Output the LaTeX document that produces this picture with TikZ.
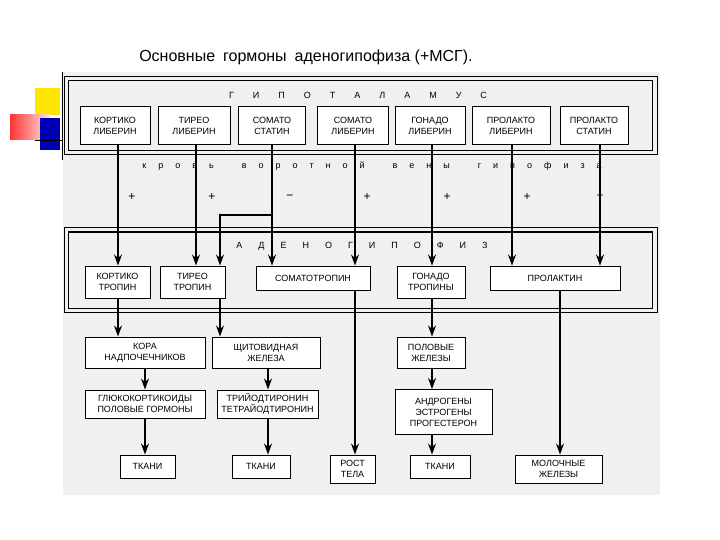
\documentclass[tikz,border=0pt]{standalone}
\usepackage{fontspec}
\setmainfont{Liberation Sans}
\usetikzlibrary{arrows.meta}
\newcommand{\gap}[1]{\hspace{#1pt}}
\begin{document}
\begin{tikzpicture}[x=1pt,y=-1pt,
  bx/.style={draw,line width=1pt,fill=white,align=center,font=\fontsize{9}{11}\selectfont,inner sep=1pt},
  ar/.style={line width=1.2pt,-{Stealth[length=11pt,width=8pt]}},
  lbl/.style={font=\fontsize{9}{11}\selectfont}]
\useasboundingbox (0,0) rectangle (720,540);
\fill[gray!12] (63,72) rectangle (660,495);
% decoration
\fill[yellow!90!orange] (35,88) rectangle (60,115);
\shade[left color=red!80,right color=red!10] (10,115) rectangle (50,140);
\fill[blue!70!black] (40,118) rectangle (60,150);
\draw[thick] (62,72) -- (62,160);
\draw[thick] (35,140) -- (62,140);
\node[font=\fontsize{16}{18}\selectfont] (title) at (306,57) {Основные\gap{8}гормоны\gap{8}аденогипофиза (+МСГ).};
% hypothalamus frame
\draw[line width=1pt] (64,77) rectangle (657,155);
\draw[line width=1pt] (68,81) rectangle (652,151);
\node[lbl] (hyp) at (358,95) {Г\gap{19}И\gap{19}П\gap{19}О\gap{19}Т\gap{19}А\gap{19}Л\gap{19}А\gap{19}М\gap{19}У\gap{19}С};
\node[bx,minimum width=70,minimum height=38] (h1) at (115,126) {КОРТИКО\\ЛИБЕРИН};
\node[bx,minimum width=72,minimum height=38] (h2) at (194,126) {ТИРЕО\\ЛИБЕРИН};
\node[bx,minimum width=67,minimum height=38] (h3) at (272,126) {СОМАТО\\СТАТИН};
\node[bx,minimum width=71,minimum height=38] (h4) at (353,126) {СОМАТО\\ЛИБЕРИН};
\node[bx,minimum width=70,minimum height=38] (h5) at (430,126) {ГОНАДО\\ЛИБЕРИН};
\node[bx,minimum width=78,minimum height=38] (h6) at (511,126) {ПРОЛАКТО\\ЛИБЕРИН};
\node[bx,minimum width=68,minimum height=38] (h7) at (594,126) {ПРОЛАКТО\\СТАТИН};
\node[lbl] (blood) at (372,166) {к\gap{12}р\gap{12}о\gap{12}в\gap{12}ь\gap{28}в\gap{12}о\gap{12}р\gap{12}о\gap{12}т\gap{12}н\gap{12}о\gap{12}й\gap{28}в\gap{12}е\gap{12}н\gap{12}ы\gap{28}г\gap{12}и\gap{12}п\gap{12}о\gap{12}ф\gap{12}и\gap{12}з\gap{12}а};
\foreach \x/\s in {132/+,212/+,290/−,367/+,447/+,527/+,600/−}
  \node[font=\fontsize{12}{14}\selectfont] at (\x,197) {\s};
% adeno frame
\draw[line width=1pt] (64,228) rectangle (657,312);
\draw[line width=1pt] (68,232) rectangle (652,308);
\node[lbl] (aden) at (362,246) {А\gap{16}Д\gap{16}Е\gap{16}Н\gap{16}О\gap{16}Г\gap{16}И\gap{16}П\gap{16}О\gap{16}Ф\gap{16}И\gap{16}З};
\node[bx,minimum width=65,minimum height=32] (a1) at (117.5,282) {КОРТИКО\\ТРОПИН};
\node[bx,minimum width=65,minimum height=32] (a2) at (192.5,282) {ТИРЕО\\ТРОПИН};
\node[bx,minimum width=114,minimum height=24] (a3) at (313,278) {СОМАТОТРОПИН};
\node[bx,minimum width=68,minimum height=32] (a4) at (431,282) {ГОНАДО\\ТРОПИНЫ};
\node[bx,minimum width=130,minimum height=24] (a5) at (555,278) {ПРОЛАКТИН};
% level 3
\node[bx,minimum width=120,minimum height=31] (k) at (145,352.5) {КОРА\\НАДПОЧЕЧНИКОВ};
\node[bx,minimum width=108,minimum height=31] (sh) at (266,352.5) {ЩИТОВИДНАЯ\\ЖЕЛЕЗА};
\node[bx,minimum width=68,minimum height=31] (pz) at (431,352.5) {ПОЛОВЫЕ\\ЖЕЛЕЗЫ};
% level 4
\node[bx,minimum width=120,minimum height=28] (g) at (145,404) {ГЛЮКОКОРТИКОИДЫ\\ПОЛОВЫЕ ГОРМОНЫ};
\node[bx,minimum width=101,minimum height=28] (t) at (267.5,404) {ТРИЙОДТИРОНИН\\ТЕТРАЙОДТИРОНИН};
\node[bx,minimum width=97,minimum height=45] (an) at (443.5,412) {АНДРОГЕНЫ\\ЭСТРОГЕНЫ\\ПРОГЕСТЕРОН};
% level 5
\node[bx,minimum width=55,minimum height=23] (t1) at (147.5,466.5) {ТКАНИ};
\node[bx,minimum width=58,minimum height=23] (t2) at (261,466.5) {ТКАНИ};
\node[bx,minimum width=45,minimum height=28] (r) at (352.5,469) {РОСТ\\ТЕЛА};
\node[bx,minimum width=60,minimum height=23] (t3) at (440,466.5) {ТКАНИ};
\node[bx,minimum width=87,minimum height=28] (m) at (558.5,469) {МОЛОЧНЫЕ\\ЖЕЛЕЗЫ};
\coordinate (br1) at (272,215);
\coordinate (br2) at (220,215);
% arrows hypothalamus -> adeno
\draw[ar] (h1.south -| 118,0) -- (a1.north -| 118,0);
\draw[ar] (h2.south -| 196,0) -- (a2.north -| 196,0);
\draw[ar] (h3.south -| 272,0) -- (a3.north -| 272,0);
\draw[ar] (br1) -- (br2) -- (a2.north -| br2);
\draw[ar] (h4.south -| 355,0) -- (a3.north -| 355,0);
\draw[ar] (h5.south -| 432,0) -- (a4.north -| 432,0);
\draw[ar] (h6.south -| 512,0) -- (a5.north -| 512,0);
\draw[ar] (h7.south -| 600,0) -- (a5.north -| 600,0);
% lower arrows
\draw[ar] (a1.south -| 118,0) -- (k.north -| 118,0);
\draw[ar] (a2.south -| 220,0) -- (sh.north -| 220,0);
\draw[ar] (a4.south -| 432,0) -- (pz.north -| 432,0);
\draw[ar] (a3.south -| 355,0) -- (r.north -| 355,0);
\draw[ar] (a5.south -| 560,0) -- (m.north -| 560,0);
\draw[ar] (k.south -| 145,0) -- (g.north -| 145,0);
\draw[ar] (sh.south -| 268,0) -- (t.north -| 268,0);
\draw[ar] (pz.south -| 432,0) -- (an.north -| 432,0);
\draw[ar] (g.south -| 145,0) -- (t1.north -| 145,0);
\draw[ar] (t.south -| 268,0) -- (t2.north -| 268,0);
\draw[ar] (an.south -| 432,0) -- (t3.north -| 432,0);
\end{tikzpicture}
\end{document}
